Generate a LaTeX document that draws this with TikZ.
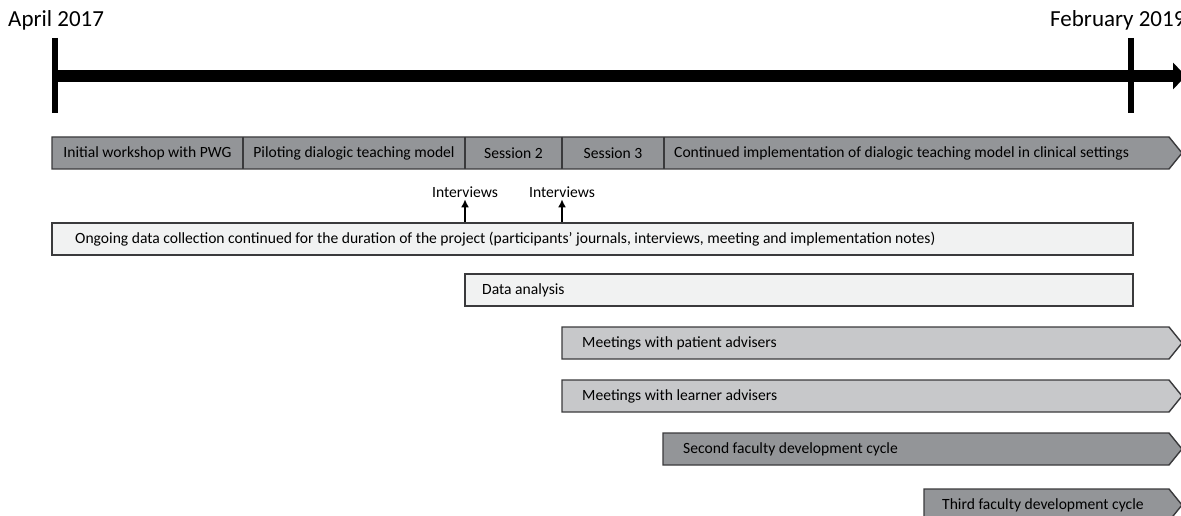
\documentclass[tikz,border=0pt]{standalone}
\usepackage{fontspec}
\setmainfont{Carlito}
\usetikzlibrary{arrows.meta}
\definecolor{darkbar}{HTML}{939598}
\definecolor{midbar}{HTML}{C7C8CA}
\definecolor{lightbar}{HTML}{F1F2F2}
\definecolor{edgegray}{HTML}{3A3A3C}
\newcommand{\arrowbar}[3]{\draw[bar, fill=#3] (#1,#2) -- (1169,#2) -- ++(13,16) -- ++(-13,16) -- ({#1},{#2+32}) -- cycle;}

\begin{document}
\begin{tikzpicture}[x=1pt, y=-1pt,
    bar/.style={draw=edgegray, line width=1.4pt},
    lbl/.style={inner sep=0pt, font=\fontsize{15.6}{18}\selectfont},
    datelbl/.style={inner sep=0pt, anchor=base west, font=\fontsize{23}{26}\selectfont}]
    \useasboundingbox (0,0) rectangle (1181,516);

    \node[datelbl] (april) at (8,27) {April 2017};
    \node[datelbl] (february) at (1050,27) {February 2019};

    \coordinate (tstart) at (55,76);
    \coordinate (tend) at (1186,76);
    \draw[line width=12pt, -{Triangle[length=13pt, width=26pt]}] (tstart) -- (tend);
    \draw[line width=6pt] (55,38) -- (55,113);
    \draw[line width=6pt] (1131,38) -- (1131,113);

    \arrowbar{52}{137}{darkbar}
    \draw[bar]
    (243,137) -- (243,169)
    (465,137) -- (465,169)
    (562,137) -- (562,169)
    (664,137) -- (664,169);
    \node[lbl] (workshop) at (147.5,153) {Initial workshop with PWG};
    \node[lbl] (piloting) at (354,153) {Piloting dialogic teaching model};
    \node[lbl] (session2) at (513.5,153) {Session 2};
    \node[lbl] (session3) at (613,153) {Session 3};
    \node[lbl, anchor=west] (continued) at (674,153) {Continued implementation of dialogic teaching model in clinical settings};

    \node[lbl, anchor=base] (interview1) at (465,197) {Interviews};
    \node[lbl, anchor=base] (interview2) at (562,197) {Interviews};
    \coordinate (ivbase1) at (465,222);
    \coordinate (ivbase2) at (562,222);
    \draw[line width=2.4pt, -{Latex[length=8pt, width=8pt]}] (ivbase1) -- ([yshift=-2pt]interview1.south);
    \draw[line width=2.4pt, -{Latex[length=8pt, width=8pt]}] (ivbase2) -- ([yshift=-2pt]interview2.south);

    \draw[bar, fill=lightbar] (52,223) rectangle (1133,255);
    \node[lbl, anchor=west] (ongoing) at (75,239) {Ongoing data collection continued for the duration of the project (participants’ journals, interviews, meeting and implementation notes)};

    \draw[bar, fill=lightbar] (465,274) rectangle (1133,306);
    \node[lbl, anchor=west] (analysis) at (482,290) {Data analysis};

    \arrowbar{562}{327}{midbar}
    \node[lbl, anchor=west] (patient) at (582,343) {Meetings with patient advisers};

    \arrowbar{562}{380}{midbar}
    \node[lbl, anchor=west] (learner) at (582,396) {Meetings with learner advisers};

    \arrowbar{663}{433}{darkbar}
    \node[lbl, anchor=west] (second) at (683,449) {Second faculty development cycle};

    \arrowbar{924}{489}{darkbar}
    \node[lbl, anchor=west] (third) at (942,505) {Third faculty development cycle};
\end{tikzpicture}
\end{document}
